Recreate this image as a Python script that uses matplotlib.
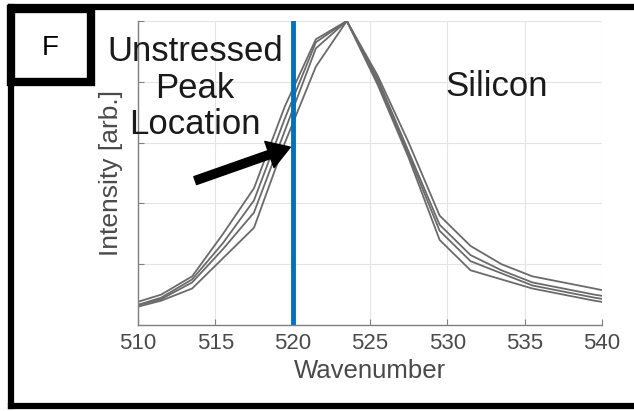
import matplotlib
matplotlib.use("Agg")
from matplotlib import pyplot as plt
from matplotlib.patches import Rectangle
from matplotlib.lines import Line2D

plt.rcParams['font.family'] = ['Liberation Sans', 'DejaVu Sans']

# wavenumber samples of the spectra
wavenumber = [509.6, 511.5, 513.5, 515.5, 517.5, 519.5, 521.5, 523.5, 525.5,
              527.5, 529.5, 531.5, 533.5, 535.5, 537.5, 539.5, 541.4]

# normalised intensities
spec_a = [0.07, 0.10, 0.16, 0.30, 0.45, 0.72, 0.94, 1.0, 0.82,
          0.60, 0.36, 0.26, 0.20, 0.16, 0.14, 0.12, 0.10]
spec_b = [0.06, 0.09, 0.15, 0.27, 0.41, 0.68, 0.93, 1.0, 0.81,
          0.57, 0.33, 0.23, 0.18, 0.14, 0.12, 0.10, 0.085]
spec_c = [0.06, 0.085, 0.14, 0.25, 0.37, 0.64, 0.91, 1.0, 0.80,
          0.56, 0.31, 0.21, 0.17, 0.13, 0.11, 0.09, 0.075]
spec_d = [0.055, 0.08, 0.12, 0.22, 0.32, 0.60, 0.85, 1.0, 0.79,
          0.55, 0.28, 0.18, 0.15, 0.12, 0.10, 0.08, 0.065]

unstressed_peak = 520
x_ticks = [510, 515, 520, 525, 530, 535, 540]

fig = plt.figure(figsize=(6.34, 4.11), dpi=100)
ax = fig.add_axes([138/634, 1-325/411, 464/634, 304/411])

for spec in [spec_a, spec_b, spec_c, spec_d]:
    ax.plot(wavenumber, spec, color='#6a6a6a', lw=1.3)

ax.axvline(unstressed_peak, color='#0072BD', lw=3.5)

ax.set_xlim(510, 540)
ax.set_ylim(0, 1)
ax.set_xticks(x_ticks)
ax.set_yticks([0, 0.2, 0.4, 0.6, 0.8, 1.0])
ax.set_yticklabels([])
ax.grid(True, color='#e4e4e4', lw=0.8)
ax.set_axisbelow(True)
ax.tick_params(direction='in', length=4, color='#808080', labelcolor='#4a4a4a',
               labelsize=16, pad=6)
for side in ['top', 'right']:
    ax.spines[side].set_visible(False)
for side in ['bottom', 'left']:
    ax.spines[side].set_color('#808080')
    ax.spines[side].set_linewidth(1.0)

ax.set_xlabel('Wavenumber', fontsize=18.5, color='#4a4a4a', labelpad=3)
ax.set_ylabel('Intensity [arb.]', fontsize=19, color='#4a4a4a', labelpad=5)

# arrow pointing at the unstressed peak
ax.annotate('', xy=(519.85, 0.585), xytext=(513.7, 0.475),
            arrowprops=dict(facecolor='black', edgecolor='black', width=6,
                            headwidth=20, headlength=16, shrink=0))

fig.text(195/634, 1-88/411, 'Unstressed\nPeak\nLocation', fontsize=25,
         ha='center', va='center', linespacing=1.12, color='#1a1a1a')
fig.text(497/634, 1-86/411, 'Silicon', fontsize=25, ha='center', va='center',
         color='#1a1a1a')

# panel frame and label box
fig.add_artist(Line2D([11/634, 11/634], [1-406/411, 1-7.5/411],
                      transform=fig.transFigure, color='black', lw=4.5))
fig.add_artist(Line2D([11/634, 1.02], [1-7.5/411, 1-7.5/411],
                      transform=fig.transFigure, color='black', lw=4.5))
fig.add_artist(Line2D([11/634, 1.02], [1-406/411, 1-406/411],
                      transform=fig.transFigure, color='black', lw=4.5))
fig.add_artist(Rectangle((11/634, 1-82.5/411), 80.5/634, 73.5/411,
                         transform=fig.transFigure, fill=False,
                         edgecolor='black', lw=6))
fig.text(50/634, 1-48/411, 'F', fontsize=20, ha='center', va='center')

fig.savefig('out.png', dpi=100)
